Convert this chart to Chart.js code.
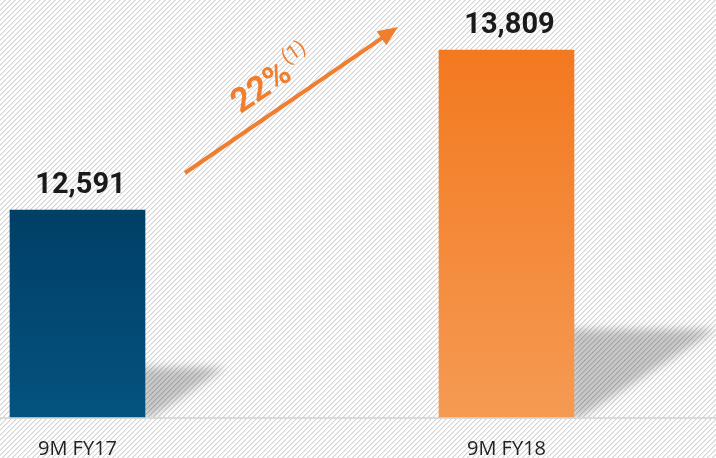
<!DOCTYPE html>
<html>
<head>
<meta charset="utf-8">
<script src="https://cdn.jsdelivr.net/npm/chart.js@4.4.0/dist/chart.umd.min.js"></script>
<style>
  html, body { margin: 0; padding: 0; background: #fff; }
  #wrap { width: 716px; height: 458px; position: relative; }
</style>
</head>
<body>
<div id="wrap"><canvas id="chart"></canvas></div>
<script>
const categories = ['9M FY17', '9M FY18'];
const values = [12591, 13809];
const valueLabels = ['12,591', '13,809'];
const growthLabel = '22%';
const growthNote = '(1)';
const axisMin = 11015;

const barTop = ['#003f66', '#f37920'];
const barBottom = ['#04537f', '#f59a53'];
const accent = '#ef7e2f';

// diagonal hatch tile for the background
function makeHatch(ctx) {
  const tile = document.createElement('canvas');
  tile.width = 5;
  tile.height = 5;
  const t = tile.getContext('2d');
  t.fillStyle = '#fff';
  t.fillRect(0, 0, 5, 5);
  for (let i = 0; i < 5; i++) {
    t.fillStyle = '#d3d3d3';
    t.fillRect(i, 4 - i, 1, 1);
    t.fillStyle = '#ececec';
    t.fillRect((i + 1) % 5, 4 - i, 1, 1);
  }
  return ctx.createPattern(tile, 'repeat');
}

const background = {
  id: 'background',
  beforeDraw(chart) {
    const ctx = chart.ctx;
    ctx.save();
    ctx.fillStyle = makeHatch(ctx);
    ctx.fillRect(0, 0, chart.width, chart.height);
    ctx.restore();
  }
};

const shadows = {
  id: 'shadows',
  beforeDatasetsDraw(chart) {
    const ctx = chart.ctx;
    const base = chart.chartArea.bottom;
    chart.getDatasetMeta(0).data.forEach(bar => {
      const p = bar.getProps(['x', 'y', 'width'], true);
      const right = p.x + p.width / 2;
      const h = base - p.y;
      const sh = h * 0.24;
      const len = h * 0.39;
      ctx.save();
      ctx.beginPath();
      ctx.rect(right, 0, chart.width - right, base);
      ctx.clip();
      ctx.filter = 'blur(5px)';
      ctx.fillStyle = 'rgba(0,0,0,0.22)';
      ctx.beginPath();
      ctx.moveTo(right - 4, base - sh);
      ctx.lineTo(right + len, base - sh);
      ctx.lineTo(right + 4, base + 2);
      ctx.lineTo(right - 4, base + 2);
      ctx.closePath();
      ctx.fill();
      ctx.restore();
    });
    ctx.save();
    ctx.strokeStyle = '#d9d9d9';
    ctx.lineWidth = 2;
    ctx.beginPath();
    ctx.moveTo(0, base + 1);
    ctx.lineTo(chart.width, base + 1);
    ctx.stroke();
    ctx.restore();
  }
};

const annotations = {
  id: 'annotations',
  afterDatasetsDraw(chart) {
    const ctx = chart.ctx;
    const bars = chart.getDatasetMeta(0).data;

    // value labels above the bars
    ctx.save();
    ctx.fillStyle = '#1a1a1a';
    ctx.font = 'bold 29px Roboto';
    ctx.textAlign = 'center';
    ctx.textBaseline = 'alphabetic';
    bars.forEach((bar, i) => {
      ctx.fillText(valueLabels[i], bar.x + 3, bar.y - 17);
    });
    ctx.restore();

    // growth arrow between the bars
    const b1 = bars[0].getProps(['x', 'y', 'width'], true);
    const b2 = bars[1].getProps(['x', 'y', 'width'], true);
    const x0 = b1.x + b1.width / 2 + 40, y0 = b1.y - 37;
    const x1 = b2.x - b2.width / 2 - 41, y1 = b2.y - 23;
    const ang = Math.atan2(y1 - y0, x1 - x0);
    const len = Math.hypot(x1 - x0, y1 - y0);

    ctx.save();
    ctx.translate(x0, y0);
    ctx.rotate(ang);
    ctx.strokeStyle = accent;
    ctx.fillStyle = accent;
    ctx.lineWidth = 4;
    ctx.beginPath();
    ctx.moveTo(0, 0);
    ctx.lineTo(len - 16, 0);
    ctx.stroke();
    ctx.beginPath();
    ctx.moveTo(len, 0);
    ctx.lineTo(len - 20, -8.5);
    ctx.lineTo(len - 20, 8.5);
    ctx.closePath();
    ctx.fill();

    // rotated growth text
    ctx.translate(len / 2 - 5, -29);
    ctx.font = 'bold 34px Roboto';
    const w1 = ctx.measureText(growthLabel).width;
    ctx.font = '20px Roboto';
    const w2 = ctx.measureText(growthNote).width;
    const start = -(w1 + w2 + 1) / 2;
    ctx.textAlign = 'left';
    ctx.textBaseline = 'alphabetic';
    ctx.font = 'bold 34px Roboto';
    ctx.fillText(growthLabel, start, 12);
    ctx.font = '20px Roboto';
    ctx.fillText(growthNote, start + w1 + 2, -3);
    ctx.restore();
  }
};

const ctx = document.getElementById('chart').getContext('2d');

new Chart(ctx, {
  type: 'bar',
  data: {
    labels: categories,
    datasets: [{
      data: values,
      base: axisMin,
      clip: false,
      barThickness: 135,
      borderWidth: 0,
      backgroundColor: c => {
        const i = c.dataIndex;
        const chart = c.chart;
        const area = chart.chartArea;
        if (!area || !chart.scales.y) return barTop[i];
        const top = chart.scales.y.getPixelForValue(values[i]);
        const g = chart.ctx.createLinearGradient(0, top, 0, area.bottom);
        g.addColorStop(0, barTop[i]);
        g.addColorStop(1, barBottom[i]);
        return g;
      }
    }]
  },
  options: {
    responsive: true,
    maintainAspectRatio: false,
    animation: false,
    layout: {
      padding: { left: 77.5, right: 209.5, top: 50, bottom: 1 }
    },
    scales: {
      x: {
        offset: false,
        grid: { display: false, drawTicks: false },
        border: { display: false },
        afterFit: scale => { scale.height = 40; },
        ticks: {
          color: '#222',
          padding: 20,
          maxRotation: 0,
          minRotation: 0,
          autoSkip: false,
          font: { family: 'Open Sans', size: 20 }
        }
      },
      y: {
        display: false,
        min: axisMin,
        max: 13809
      }
    },
    plugins: {
      legend: { display: false },
      tooltip: { enabled: false }
    }
  },
  plugins: [background, shadows, annotations]
});
</script>
</body>
</html>
